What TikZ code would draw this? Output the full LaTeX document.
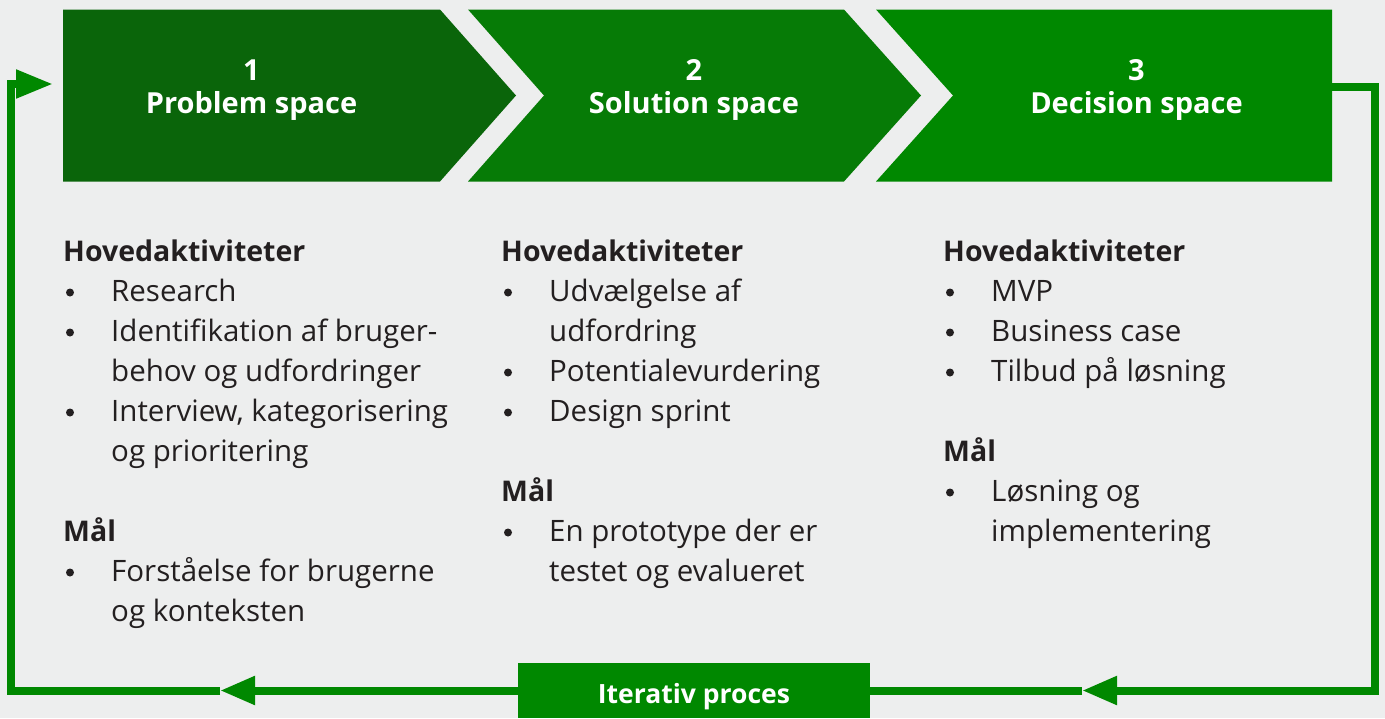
\documentclass[tikz,border=0pt]{standalone}
\usepackage{fontspec}
\setmainfont{Open Sans}
\usetikzlibrary{arrows.meta}
\definecolor{bg}{HTML}{EDEEEE}
\definecolor{gA}{HTML}{0A650A}
\definecolor{gB}{HTML}{067B06}
\definecolor{gC}{HTML}{008800}
\definecolor{txt}{HTML}{231F20}
\begin{document}
\begin{tikzpicture}[x=1pt,y=-1pt,
  ttl/.style={text=white,font=\fontsize{29}{33}\selectfont\bfseries,align=center,anchor=base,inner sep=0pt},
  head/.style={text=txt,font=\fontsize{28.5}{40}\selectfont\bfseries,anchor=base west,inner sep=0pt},
  itm/.style={text=txt,font=\fontsize{29.5}{40}\selectfont,align=left,anchor=base west,inner sep=0pt},
  bul/.style={circle,fill=txt,inner sep=0pt,minimum size=8pt},
  loopline/.style={draw=gC,line width=8pt},
  tipA/.style={-{Triangle[length=35pt,width=27pt]}},
  itbox/.style={fill=gC,minimum width=352pt,minimum height=55pt,inner sep=0pt,text=white,font=\fontsize{26.5}{30}\selectfont\bfseries}]
\fill[bg] (0,0) rectangle (1385,718);
\useasboundingbox (0,0) rectangle (1385,718);
% chevrons
\fill[gA] (63,9.5) -- (440,9.5) -- (516,95.5) -- (440,181.5) -- (63,181.5) -- cycle;
\fill[gB] (468,9.5) -- (844,9.5) -- (921,95.5) -- (844,181.5) -- (468,181.5) -- (544,95.5) -- cycle;
\fill[gC] (876,9.5) -- (1332,9.5) -- (1332,181.5) -- (876,181.5) -- (953,95.5) -- cycle;
% (multi-line nodes are placed at the baseline of their last line)
\node[ttl] (t1) at (251.5,113) {1\\Problem space};
\node[ttl] (t2) at (694,113) {2\\Solution space};
\node[ttl] (t3) at (1136.5,113) {3\\Decision space};
% column 1
\node[head] (h1) at (63,261) {Hovedaktiviteter};
\node[bul] (b11) at (70,292.5) {};
\node[itm] (i11) at (111,301) {Research};
\node[bul] (b12) at (70,332.5) {};
\node[itm] (i12) at (111,381) {Identifikation af bruger-\\behov og udfordringer};
\node[bul] (b13) at (70,412.5) {};
\node[itm] (i13) at (111,461) {Interview, kategorisering\\og prioritering};
\node[head] (m1) at (63,541) {Mål};
\node[bul] (b14) at (70,572.5) {};
\node[itm] (i14) at (111,621) {Forståelse for brugerne\\og konteksten};
% column 2
\node[head] (h2) at (501,261) {Hovedaktiviteter};
\node[bul] (b21) at (508,292.5) {};
\node[itm] (i21) at (549,341) {Udvælgelse af\\udfordring};
\node[bul] (b22) at (508,372.5) {};
\node[itm] (i22) at (549,381) {Potentialevurdering};
\node[bul] (b23) at (508,412.5) {};
\node[itm] (i23) at (549,421) {Design sprint};
\node[head] (m2) at (501,501) {Mål};
\node[bul] (b24) at (508,532.5) {};
\node[itm] (i24) at (549,581) {En prototype der er\\testet og evalueret};
% column 3
\node[head] (h3) at (943,261) {Hovedaktiviteter};
\node[bul] (b31) at (950,292.5) {};
\node[itm] (i31) at (991,301) {MVP};
\node[bul] (b32) at (950,332.5) {};
\node[itm] (i32) at (991,341) {Business case};
\node[bul] (b33) at (950,372.5) {};
\node[itm] (i33) at (991,381) {Tilbud på løsning};
\node[head] (m3) at (943,461) {Mål};
\node[bul] (b34) at (950,492.5) {};
\node[itm] (i34) at (991,541) {Løsning og\\implementering};
% iteration loop
\node[itbox] (it) at (694,690.5) {};
\node[text=white,font=\fontsize{26.5}{30}\selectfont\bfseries,anchor=base,inner sep=0pt] (itl) at (694,703) {Iterativ proces};
\coordinate (c3r) at (1332,87);
\coordinate (br) at (1375,690.5);
\coordinate (tipR) at (1082,690.5);
\coordinate (tipL) at (220,690.5);
\coordinate (tl) at (11,84);
\coordinate (c1l) at (53,84);
\draw[loopline,tipA] (c3r) -| (br) -- (tipR);
\draw[loopline] (tipR) -- (it.east);
\draw[loopline,tipA] (it.west) -- (tipL);
\draw[loopline,-{Triangle[length=37pt,width=27pt]}] (tipL) -| (tl) -- (c1l);
\end{tikzpicture}
\end{document}
